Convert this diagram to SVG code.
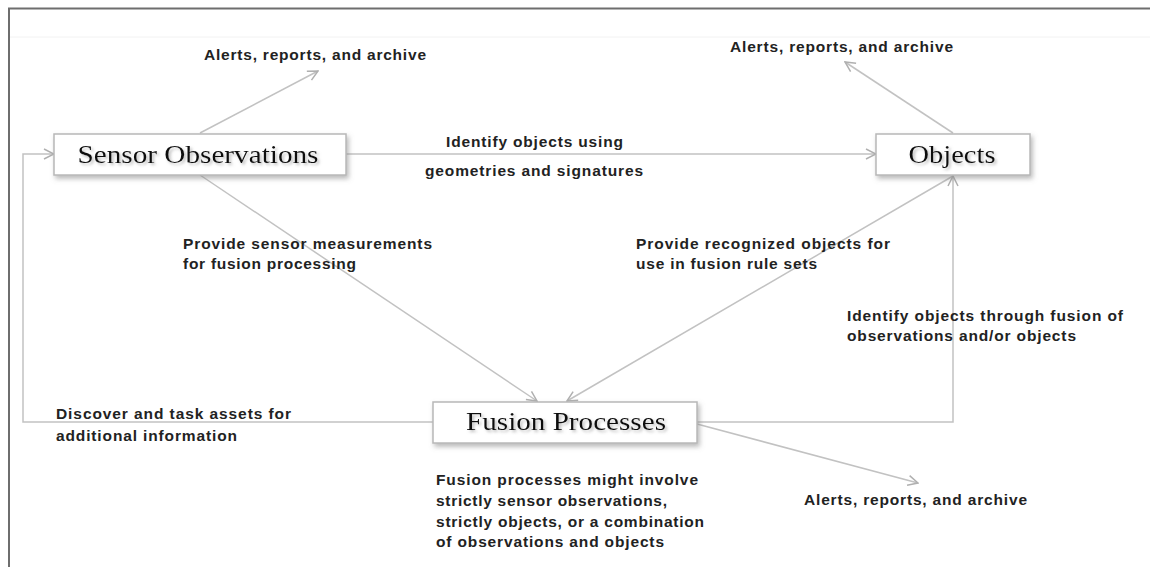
<svg xmlns="http://www.w3.org/2000/svg" width="1150" height="567" viewBox="0 0 1150 567">
  <style>
    .frame { fill: none; stroke: #6e6e6e; stroke-width: 2; }
    .box { fill: #ffffff; stroke: #b8b8b8; stroke-width: 1.5; }
    .title { font-family: "Liberation Serif", "DejaVu Serif", serif; font-size: 25px; fill: #111111; text-anchor: middle; }
    .label { font-family: "Liberation Sans", Arial, sans-serif; font-weight: bold; font-size: 15.5px; fill: #222222; }
    .conn { fill: none; stroke: #c2c2c2; stroke-width: 1.5; }
  </style>
  <defs>
    <marker id="arrow" viewBox="0 0 12 12" markerWidth="12" markerHeight="12" refX="11" refY="6" orient="auto" markerUnits="userSpaceOnUse">
      <path d="M1,1 L11,6 L1,11" fill="none" stroke="#b0b0b0" stroke-width="1.5"/>
    </marker>
    <filter id="boxShadow" x="-10%" y="-30%" width="125%" height="170%">
      <feGaussianBlur in="SourceAlpha" stdDeviation="2.5"/>
      <feOffset dx="2" dy="3" result="off"/>
      <feFlood flood-color="#808080" flood-opacity="0.55"/>
      <feComposite in2="off" operator="in" result="shadow"/>
      <feMerge><feMergeNode in="shadow"/><feMergeNode in="SourceGraphic"/></feMerge>
    </filter>
    <filter id="textShadow" x="-10%" y="-40%" width="125%" height="190%">
      <feGaussianBlur in="SourceAlpha" stdDeviation="1.5"/>
      <feOffset dx="1.5" dy="2" result="off"/>
      <feFlood flood-color="#909090" flood-opacity="0.6"/>
      <feComposite in2="off" operator="in" result="shadow"/>
      <feMerge><feMergeNode in="shadow"/><feMergeNode in="SourceGraphic"/></feMerge>
    </filter>
  </defs>

  <rect width="1150" height="567" fill="#ffffff"/>
  <!-- outer frame (top and left edges) -->
  <path class="frame" d="M9,567 L9,8.5 L1150,8.5"/>
  <line x1="10" y1="37" x2="1150" y2="37" stroke="#f2f2f2" stroke-width="1"/>

  <!-- connectors -->
  <g id="connectors">
    <path class="conn" d="M200,133 L318,71" marker-end="url(#arrow)"/>
    <path class="conn" d="M346,154 L876,154" marker-end="url(#arrow)"/>
    <path class="conn" d="M433,422 L23,422 L23,154 L54,154" marker-end="url(#arrow)"/>
    <path class="conn" d="M200,175 L537,401" marker-end="url(#arrow)"/>
    <path class="conn" d="M953,176 L567,401" marker-end="url(#arrow)"/>
    <path class="conn" d="M697,422 L953,422 L953,176" marker-end="url(#arrow)"/>
    <path class="conn" d="M697,424 L918,483" marker-end="url(#arrow)"/>
    <path class="conn" d="M953,133 L845,62" marker-end="url(#arrow)"/>
  </g>

  <!-- nodes -->
  <g id="sensor-observations">
    <rect class="box" x="54" y="134" width="292" height="41" filter="url(#boxShadow)"/>
    <text class="title" x="198" y="163" textLength="241" lengthAdjust="spacingAndGlyphs" filter="url(#textShadow)">Sensor Observations</text>
  </g>
  <g id="objects">
    <rect class="box" x="876" y="134" width="154" height="41" filter="url(#boxShadow)"/>
    <text class="title" x="952" y="163" textLength="87" lengthAdjust="spacingAndGlyphs" filter="url(#textShadow)">Objects</text>
  </g>
  <g id="fusion-processes">
    <rect class="box" x="433" y="402" width="264" height="41" filter="url(#boxShadow)"/>
    <text class="title" x="566" y="430" textLength="200" lengthAdjust="spacingAndGlyphs" filter="url(#textShadow)">Fusion Processes</text>
  </g>

  <!-- labels -->
  <g id="labels">
    <text class="label" x="204" y="60" textLength="222" lengthAdjust="spacing">Alerts, reports, and archive</text>
    <text class="label" x="730" y="52" textLength="223" lengthAdjust="spacing">Alerts, reports, and archive</text>
    <text class="label" x="446" y="147" textLength="177" lengthAdjust="spacing">Identify objects using</text>
    <text class="label" x="425" y="176" textLength="218" lengthAdjust="spacing">geometries and signatures</text>
    <text class="label" x="183" y="249" textLength="249" lengthAdjust="spacing">Provide sensor measurements</text>
    <text class="label" x="183" y="269" textLength="173" lengthAdjust="spacing">for fusion processing</text>
    <text class="label" x="636" y="249" textLength="254" lengthAdjust="spacing">Provide recognized objects for</text>
    <text class="label" x="636" y="269" textLength="181" lengthAdjust="spacing">use in fusion rule sets</text>
    <text class="label" x="847" y="321" textLength="276" lengthAdjust="spacing">Identify objects through fusion of</text>
    <text class="label" x="847" y="341" textLength="229" lengthAdjust="spacing">observations and/or objects</text>
    <text class="label" x="56" y="419" textLength="235" lengthAdjust="spacing">Discover and task assets for</text>
    <text class="label" x="56" y="441" textLength="181" lengthAdjust="spacing">additional information</text>
    <text class="label" x="436" y="485" textLength="262" lengthAdjust="spacing">Fusion processes might involve</text>
    <text class="label" x="436" y="506" textLength="231" lengthAdjust="spacing">strictly sensor observations,</text>
    <text class="label" x="436" y="527" textLength="268" lengthAdjust="spacing">strictly objects, or a combination</text>
    <text class="label" x="436" y="547" textLength="228" lengthAdjust="spacing">of observations and objects</text>
    <text class="label" x="804" y="505" textLength="223" lengthAdjust="spacing">Alerts, reports, and archive</text>
  </g>
</svg>
